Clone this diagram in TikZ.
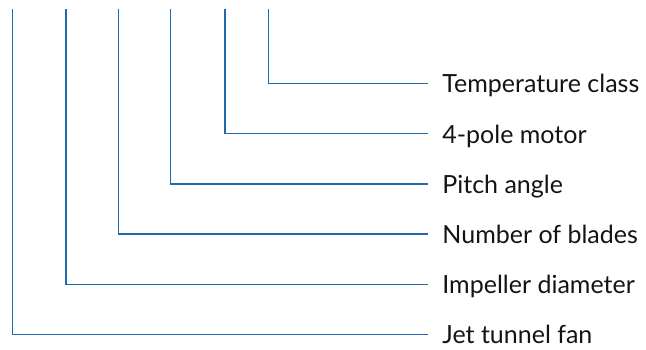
\documentclass[tikz,border=0pt]{standalone}
\usepackage{fontspec}
\setmainfont{Lato}
\definecolor{lineblue}{RGB}{30,105,175}
\definecolor{txt}{RGB}{20,20,20}
\begin{document}
\begin{tikzpicture}[x=1pt,y=1pt,
  lbl/.style={anchor=west,inner xsep=14.5pt,inner ysep=0pt,text height=19pt,text depth=0pt,
    font=\fontsize{25}{28}\selectfont,text=txt},
  conn/.style={draw=lineblue,line width=1.4pt}]
\useasboundingbox (0,0) rectangle (646,349);
% labels (y = 349 - image y)
\node[lbl] (l1) at (427.7,265.7) {Temperature class};
\node[lbl] (l2) at (427.7,215.4) {4-pole motor};
\node[lbl] (l3) at (427.7,165.1) {Pitch angle};
\node[lbl] (l4) at (427.7,114.9) {Number of blades};
\node[lbl] (l5) at (427.7,64.7) {Impeller diameter};
\node[lbl] (l6) at (427.7,14.7) {Jet tunnel fan};
% tops of the vertical lines
\coordinate (t1) at (268.5,340);
\coordinate (t2) at (225,340);
\coordinate (t3) at (170.5,340);
\coordinate (t4) at (118.5,340);
\coordinate (t5) at (66,340);
\coordinate (t6) at (12.5,340);
\foreach \i in {1,...,6}{\draw[conn] (t\i) |- (l\i.west);}
\end{tikzpicture}
\end{document}
